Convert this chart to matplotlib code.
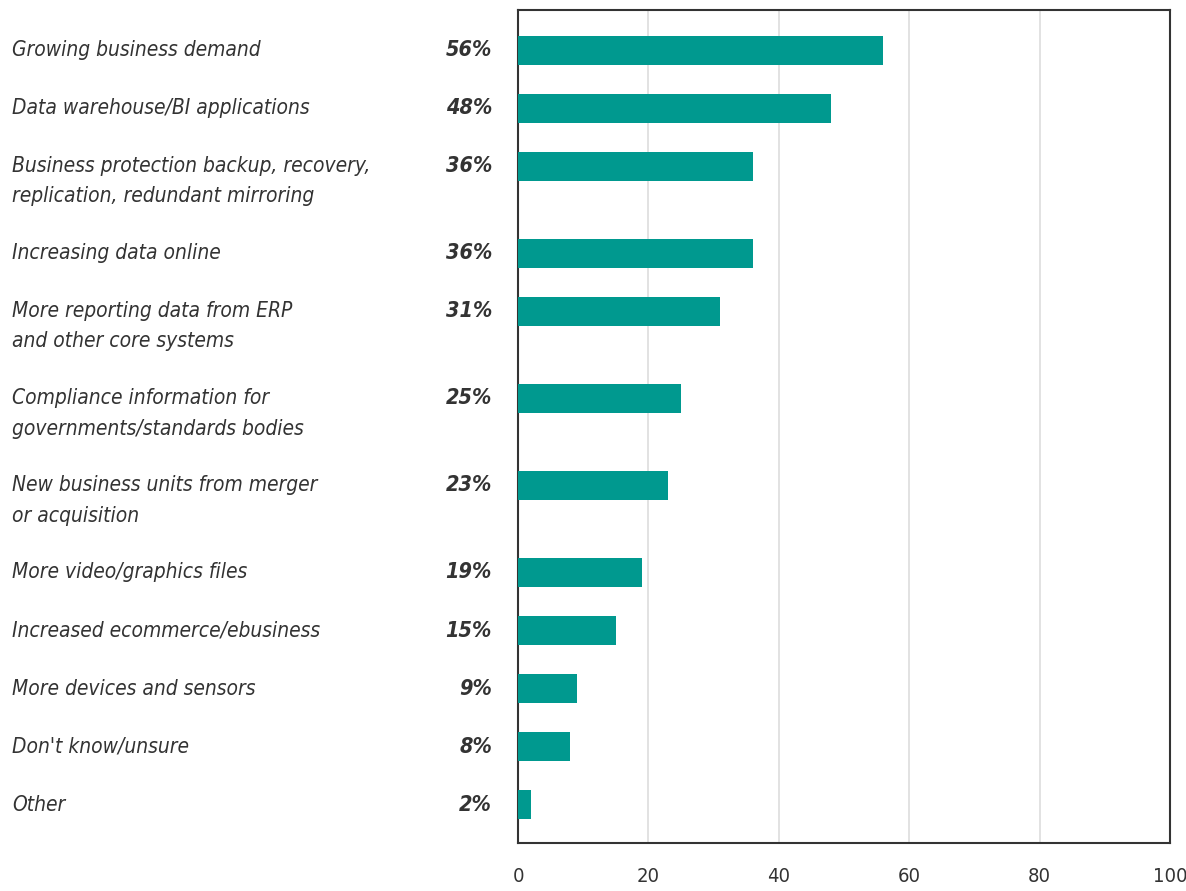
import matplotlib.pyplot as plt
import matplotlib.transforms as mtransforms

# survey answers, top to bottom
labels = ['Growing business demand',
          'Data warehouse/BI applications',
          'Business protection backup, recovery,\nreplication, redundant mirroring',
          'Increasing data online',
          'More reporting data from ERP\nand other core systems',
          'Compliance information for\ngovernments/standards bodies',
          'New business units from merger\nor acquisition',
          'More video/graphics files',
          'Increased ecommerce/ebusiness',
          'More devices and sensors',
          "Don't know/unsure",
          'Other']
values = [56, 48, 36, 36, 31, 25, 23, 19, 15, 9, 8, 2]
xticks = [0, 20, 40, 60, 80, 100]

fam = ['DejaVu Sans']
teal = '#00998f'
txt = '#333333'

# two-line labels take half a row more
ypos = []
y = 0.0
for lab in labels:
    ypos.append(y)
    y += 1 + 0.5 * lab.count('\n')

fig = plt.figure(figsize=(11.86, 8.91), dpi=100)
ax = fig.add_axes([0.4368, 0.0539, 0.5497, 0.9349])

ax.barh(ypos, values, height=0.5, color=teal, zorder=3)
ax.set_xlim(0, 100)
ax.set_ylim(ypos[-1] + 0.66, -0.69)
ax.set_yticks([])
ax.set_xticks(xticks)
ax.set_xticklabels([str(t) for t in xticks], family=fam, stretch='condensed',
                   fontsize=14.5, color=txt)
ax.tick_params(axis='x', length=0, pad=17)
ax.grid(axis='x', color='#dddddd', linewidth=1.2, zorder=0)
for s in ax.spines.values():
    s.set_color('#333333')
    s.set_linewidth(1.5)

trans = mtransforms.blended_transform_factory(fig.transFigure, ax.transData)
for lab, v, yy in zip(labels, values, ypos):
    for i, line in enumerate(lab.split('\n')):
        ax.text(12 / 1186, yy + i * 0.52, line, transform=trans, ha='left', va='center',
                family=fam, stretch='condensed', style='italic', fontsize=15, color=txt)
    ax.text(492 / 1186, yy, f'{v}%', transform=trans, ha='right', va='center',
            family=fam, stretch='condensed', style='italic', weight='bold',
            fontsize=15.5, color=txt)

plt.savefig('out.png', dpi=100)
